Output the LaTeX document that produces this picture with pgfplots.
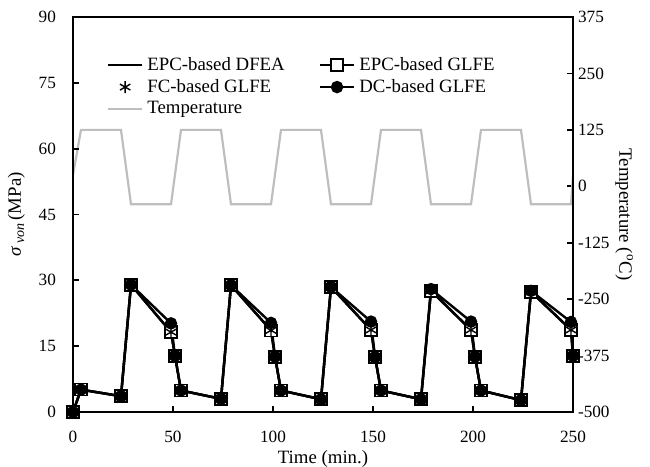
\documentclass[border=0pt]{standalone}
\usepackage{fontspec}
\setmainfont{Liberation Serif}
\usepackage{pgfplots}
\usepackage{pgfplotstable}
\pgfplotsset{compat=1.18}

\definecolor{tempgray}{RGB}{190,190,190}

% time (min.), von Mises stress (MPa)
\pgfplotstableread{
t    dfea  epc   fc    dc
0    0.0   0.0   0.0   0.0
4    5.1   5.1   5.1   5.1
24   3.6   3.6   3.6   3.6
29   29.0  29.0  29.0  29.0
49   18.2  18.2  18.2  20.2
51   12.8  12.8  12.8  12.8
54   4.9   4.9   4.9   4.9
74   3.0   3.0   3.0   3.0
79   28.9  28.9  28.9  28.9
99   18.6  18.6  18.6  20.3
101  12.6  12.6  12.6  12.6
104  4.9   4.9   4.9   4.9
124  2.9   2.9   2.9   2.9
129  28.5  28.5  28.5  28.5
149  18.7  18.7  18.7  20.6
151  12.6  12.6  12.6  12.5
154  4.9   4.9   4.9   4.9
174  2.9   2.9   2.9   2.9
179  27.6  27.6  27.6  28.0
199  18.7  18.7  18.7  20.6
201  12.6  12.6  12.6  12.6
204  4.9   4.9   4.9   4.9
224  2.7   2.7   2.7   2.7
229  27.4  27.4  27.4  27.6
249  18.7  18.7  18.7  20.5
250  12.8  12.8  12.8  12.8
}\stress

% temperature profile (C)
\pgfplotstableread{
t    T
0    25
4    125
24   125
29   -40
49   -40
54   125
74   125
79   -40
99   -40
104  125
124  125
129  -40
149  -40
154  125
174  125
179  -40
199  -40
204  125
224  125
229  -40
249  -40
250  25
}\temp

\pgfplotsset{
  every axis/.append style={
    width=250pt, height=197.5pt, scale only axis,
    xmin=0, xmax=250,
    axis line style={line width=1.2pt},
    major tick style={line width=0.9pt, black},
    major tick length=3pt,
    tick label style={font=\fontsize{8.6}{10}\selectfont},
    label style={font=\fontsize{9.4}{11}\selectfont},
    /pgf/number format/assume math mode=true,
  }
}

\begin{document}
\begin{tikzpicture}
\useasboundingbox (-36.5pt,-27.5pt) rectangle (288.5pt,206pt);

% temperature, right axis
\begin{axis}[
  axis y line*=right,
  axis x line=none,
  ymin=-500, ymax=375,
  ytick={-500,-375,...,375},
  yticklabel style={xshift=-1pt},
  ylabel={Temperature (\textsuperscript{o}C)},
  ylabel style={rotate=180, yshift=-4pt},
]
\addplot[tempgray, line width=1.1pt] table[x=t, y=T] {\temp};
\end{axis}

% stress, left axis
\begin{axis}[
  ymin=0, ymax=90,
  ytick={0,15,...,90},
  xtick={0,50,...,250},
  ytick pos=left,
  xtick pos=bottom,
  yticklabel style={xshift=-5pt},
  xticklabel style={yshift=-6pt},
  xlabel={Time (min.)},
  xlabel style={yshift=3pt},
  ylabel={\textit{σ}\,\raisebox{-0.35ex}{\fontsize{7}{8}\selectfont\textit{von}}\,(MPa)},
  legend columns=2,
  legend cell align=left,
  legend style={at={(0.055,0.92)}, anchor=north west, draw=none, fill=none,
    font=\fontsize{9.4}{11}\selectfont, row sep=-1pt,
    /tikz/every even column/.append style={column sep=15pt}},
]
\addplot[black, line width=1.2pt] table[x=t, y=dfea] {\stress};
\addlegendentry{EPC-based DFEA}
\addplot[black, line width=1.2pt, mark=square*,
  mark options={fill=white, line width=0.8pt, mark size=3pt}] table[x=t, y=epc] {\stress};
\addlegendentry{EPC-based GLFE}
\addplot[black, only marks, mark=asterisk,
  mark options={line width=0.7pt, mark size=3pt}] table[x=t, y=fc] {\stress};
\addlegendentry{FC-based GLFE}
\addplot[black, line width=1.2pt, mark=*, mark options={mark size=2.5pt}] table[x=t, y=dc] {\stress};
\addlegendentry{DC-based GLFE}
\addlegendimage{tempgray, line width=1.1pt}
\addlegendentry{Temperature}
\end{axis}
\end{tikzpicture}
\end{document}
